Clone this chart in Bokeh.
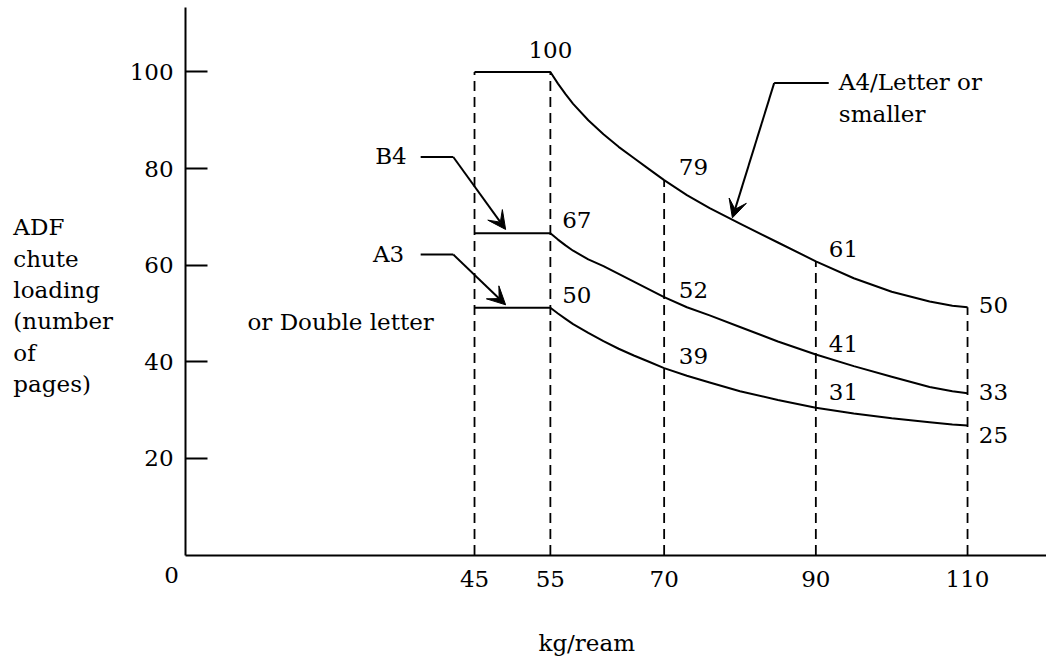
from bokeh.plotting import figure
from bokeh.models import Range1d, FixedTicker, Arrow, VeeHead, ColumnDataSource
from bokeh.core.properties import value
from bokeh.embed import file_html
from bokeh.resources import INLINE

# ---------------- data ----------------
weights = [45, 55, 56, 57, 58, 60, 62, 64, 66, 68, 70, 73, 76, 80, 85, 90, 95, 100, 105, 108, 110]
a4_letter = [100, 100, 97.6, 95.4, 93.4, 90.0, 87.1, 84.5, 82.2, 79.9, 77.6, 74.5, 71.8,
             68.6, 64.7, 60.8, 57.3, 54.5, 52.5, 51.6, 51.3]
b4 = [66.6, 66.6, 65.3, 64.1, 63.0, 61.2, 59.8, 58.2, 56.6, 55.0, 53.4, 51.3, 49.6,
      47.2, 44.2, 41.5, 39.1, 36.9, 34.8, 33.9, 33.5]
a3 = [51.2, 51.2, 50.0, 48.9, 47.8, 46.0, 44.3, 42.7, 41.3, 40.0, 38.7, 37.1, 35.7,
      33.9, 32.1, 30.5, 29.3, 28.3, 27.5, 27.0, 26.8]

x_ticks = [45, 55, 70, 90, 110]
y_ticks = [20, 40, 60, 80, 100]

value_labels = ["100", "67", "50", "79", "52", "39", "61", "41", "31", "50", "33", "25"]
value_label_weights = [55, 55, 55, 70, 70, 70, 90, 90, 90, 110, 110, 110]

series_names = ["B4", "A3", "or Double letter", "A4/Letter or", "smaller"]
y_label_lines = ["ADF", "chute", "loading", "(number", "of", "pages)"]
x_label = "kg/ream"
origin_label = "0"

# ---------------- layout (positions, not data) ----------------
FONT = "DejaVu Serif"
FS = "23px"
TXT_DY = -10      # screen-pixel correction for text baselines
X0 = 6.9          # where the y axis sits
Y_TOP = 113.4     # top end of the y axis line

label_dx = [0, 1.55, 1.55, 1.93, 1.93, 1.93, 1.71, 1.71, 1.71, 1.48, 1.48, 1.48]
label_y = [102.4, 67.2, 51.7, 78.2, 52.7, 39.2, 61.3, 41.7, 31.6, 49.6, 31.6, 22.7]
label_align = ["center"] + ["left"] * 11

name_x = [31.9, 31.6, 15.07, 93.03, 93.03]
name_y = [80.5, 60.3, 46.1, 95.8, 89.3]

p = figure(width=1046, height=664, output_backend="svg", toolbar_location=None,
           x_range=Range1d(-17.495, 120.41), y_range=Range1d(-22.67, 114.8),
           min_border=0, min_border_left=0, min_border_right=0,
           min_border_top=0, min_border_bottom=0)
p.grid.visible = False
p.outline_line_color = None
p.background_fill_color = "white"
p.border_fill_color = "white"

for ax in (p.xaxis, p.yaxis):
    ax.axis_line_width = 2
    ax.axis_line_color = "black"
    ax.minor_tick_in = 0
    ax.minor_tick_out = 0
    ax.major_tick_line_width = 2
    ax.major_tick_line_color = "black"
    ax.major_label_text_font = FONT
    ax.major_label_text_font_size = FS
    ax.major_label_text_color = "black"

p.xaxis.fixed_location = 0
p.xaxis.bounds = (X0, 120.41)
p.xaxis.ticker = FixedTicker(ticks=x_ticks)
p.xaxis.major_tick_in = 0
p.xaxis.major_tick_out = 0
p.xaxis.major_label_standoff = 16

p.yaxis.fixed_location = X0
p.yaxis.bounds = (0, Y_TOP)
p.yaxis.ticker = FixedTicker(ticks=y_ticks)
p.yaxis.major_tick_in = 22
p.yaxis.major_tick_out = 0
p.yaxis.major_label_standoff = 12

# dashed drop lines from top curve to axis
drop_top = [a4_letter[weights.index(w)] for w in x_ticks]
p.segment(x0=x_ticks, y0=[0] * len(x_ticks), x1=x_ticks, y1=drop_top,
          line_color="black", line_width=1.8, line_dash="10 6")

# curves
for series in (a4_letter, b4, a3):
    p.line(weights, series, line_color="black", line_width=2, line_join="round")

TXT = dict(text_font=value(FONT), text_font_size=FS, text_baseline="alphabetic",
           text_color="black", y_offset=TXT_DY)

# value labels
lx = [w + d for w, d in zip(value_label_weights, label_dx)]
src = ColumnDataSource(dict(x=lx, y=label_y, t=value_labels, a=label_align))
p.text(x="x", y="y", text="t", text_align="a", source=src, **TXT)

# series name labels with leader arrows
p.text(x=name_x, y=name_y, text=series_names, text_align="left", **TXT)

leaders = [  # (x_start, x_elbow, y_elbow, x_tip, y_tip)
    (37.9, 42.2, 82.4, 49.1, 67.4),
    (37.9, 42.2, 62.2, 49.1, 51.8),
    (91.7, 84.5, 97.7, 79.0, 69.8),
]
for xs, xe, ye, xt, yt in leaders:
    p.line([xs, xe], [ye, ye], line_color="black", line_width=2)
    p.add_layout(Arrow(x_start=xe, y_start=ye, x_end=xt, y_end=yt,
                       line_color="black", line_width=2,
                       end=VeeHead(size=18, fill_color="black", line_color="black",
                                   line_width=1)))

# axis caption texts
n = len(y_label_lines)
p.text(x=[-15.8] * n, y=[65.8 - i * 6.5 for i in range(n)], text=y_label_lines,
       text_align="left", **TXT)
p.text(x=[5.05], y=[-6.3], text=[origin_label], text_align="center", **TXT)
p.text(x=[53.43], y=[-20.2], text=[x_label], text_align="left", **TXT)

open("out.html", "w").write(file_html(p, INLINE))
